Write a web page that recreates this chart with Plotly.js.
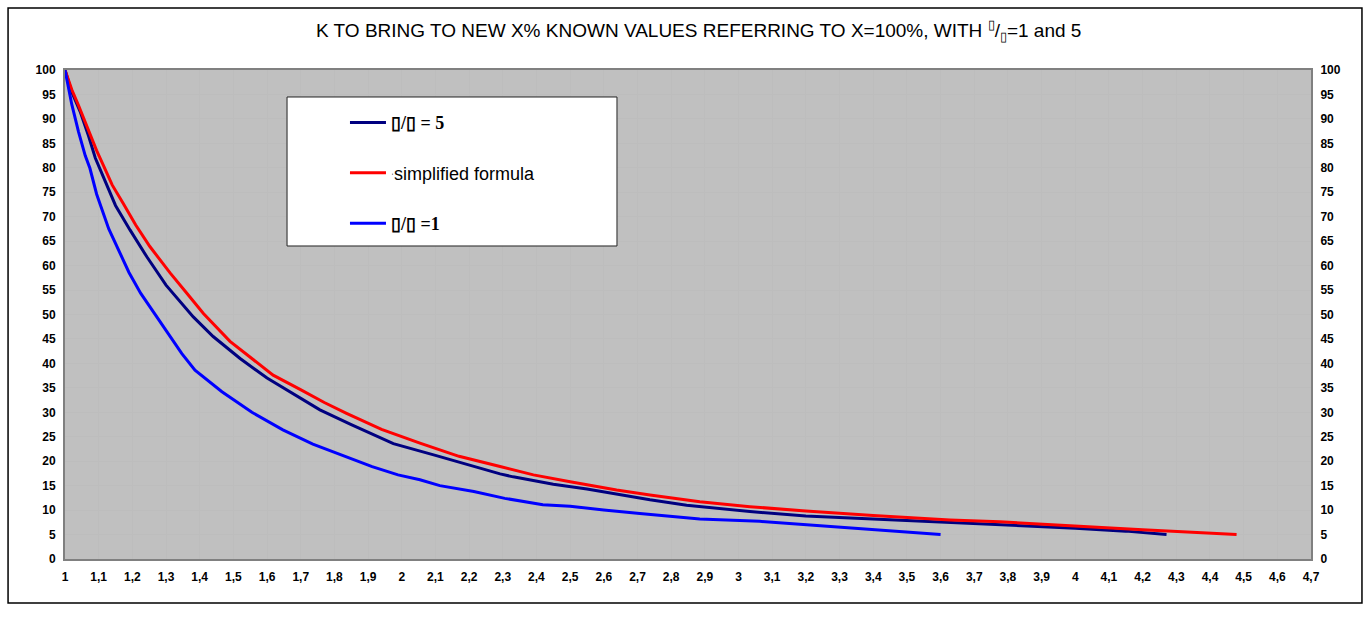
<!DOCTYPE html>
<html>
<head>
<meta charset="utf-8">
<script src="https://cdn.plot.ly/plotly-3.0.1.min.js"></script>
<style>html,body{margin:0;padding:0;background:#fff;}#chart{width:1370px;height:625px;}</style>
</head>
<body>
<div id="chart"></div>
<script>
// Series: phi/phi = 5 (navy)
const ratio5X = [1, 1.02, 1.045, 1.07, 1.09, 1.12, 1.15, 1.193, 1.243, 1.30, 1.381, 1.44, 1.52, 1.6, 1.698, 1.757, 1.85, 1.975, 2.1, 2.2, 2.292, 2.331, 2.45, 2.55, 2.638, 2.737, 2.846, 3.034, 3.2, 3.4, 3.628, 3.776, 4.0, 4.15, 4.271];
const ratio5Y = [100, 95.5, 91.5, 86.5, 82, 77, 72.3, 67.3, 61.8, 56, 49.5, 45.5, 41, 37, 32.9, 30.5, 27.5, 23.6, 21.2, 19.2, 17.4, 16.8, 15.3, 14.3, 13.2, 12.1, 11.0, 9.7, 8.8, 8.2, 7.4, 7.0, 6.3, 5.7, 5];
// Series: simplified formula (red)
const simpleX = [1, 1.02, 1.04, 1.07, 1.094, 1.114, 1.14, 1.173, 1.21, 1.252, 1.312, 1.36, 1.411, 1.49, 1.559, 1.618, 1.698, 1.77, 1.836, 1.94, 2.054, 2.17, 2.292, 2.391, 2.5, 2.638, 2.737, 2.885, 3.034, 3.2, 3.4, 3.628, 3.776, 4.0, 4.2, 4.479];
const simpleY = [100, 96, 92.8, 87.5, 83.5, 80.5, 76.5, 72.7, 68.3, 63.9, 58.5, 54.5, 50.2, 44.5, 40.8, 37.6, 34.7, 32, 29.8, 26.5, 23.7, 21, 18.9, 17.2, 15.8, 14.1, 13.1, 11.7, 10.7, 9.8, 8.9, 8.0, 7.6, 6.7, 6.0, 5];
// Series: phi/phi = 1 (blue)
const ratio1X = [1, 1.02, 1.04, 1.06, 1.074, 1.094, 1.13, 1.16, 1.19, 1.225, 1.267, 1.30, 1.347, 1.386, 1.466, 1.555, 1.647, 1.736, 1.831, 1.912, 1.989, 2.054, 2.113, 2.214, 2.306, 2.419, 2.5, 2.6, 2.707, 2.885, 3.063, 3.18, 3.42, 3.6];
const ratio1Y = [100, 93, 87.4, 82.5, 79.9, 74.6, 67.5, 63, 58.6, 54.3, 50.1, 46.8, 42, 38.6, 34.2, 30, 26.4, 23.5, 21, 18.9, 17.2, 16.2, 15, 13.8, 12.4, 11.1, 10.8, 10, 9.3, 8.2, 7.7, 7.1, 5.9, 5];

const seriesNames = [
  '<span style="font-family:\'Liberation Serif\'"><b>▯/▯ = 5</b></span>',
  '<span style="font-size:9px">ˈ</span>simplified formula',
  '<span style="font-family:\'Liberation Serif\'"><b>▯/▯ =1</b></span>'
];

const xTickVals = [1,1.1,1.2,1.3,1.4,1.5,1.6,1.7,1.8,1.9,2,2.1,2.2,2.3,2.4,2.5,2.6,2.7,2.8,2.9,3,3.1,3.2,3.3,3.4,3.5,3.6,3.7,3.8,3.9,4,4.1,4.2,4.3,4.4,4.5,4.6,4.7];
const xTickText = ['1','1,1','1,2','1,3','1,4','1,5','1,6','1,7','1,8','1,9','2','2,1','2,2','2,3','2,4','2,5','2,6','2,7','2,8','2,9','3','3,1','3,2','3,3','3,4','3,5','3,6','3,7','3,8','3,9','4','4,1','4,2','4,3','4,4','4,5','4,6','4,7'];

const titleText = 'K TO BRING TO NEW X% KNOWN VALUES REFERRING TO X=100%, WITH <sup>▯</sup>/<sub>▯</sub>=1 and 5';

const traces = [
  {x: ratio5X, y: ratio5Y, name: seriesNames[0], type: 'scatter', mode: 'lines', line: {color: '#000080', width: 3}, legendgroup: 'a'},
  {x: simpleX, y: simpleY, name: seriesNames[1], type: 'scatter', mode: 'lines', line: {color: '#ff0000', width: 3}, legendgroup: 'b'},
  {x: ratio1X, y: ratio1Y, name: seriesNames[2], type: 'scatter', mode: 'lines', line: {color: '#0000ff', width: 3}, legendgroup: 'c', yaxis: 'y2'}
];

const tickFont = {family: 'Liberation Sans, Arial, sans-serif', size: 12, color: '#000', weight: 'bold'};

const layout = {
  width: 1370, height: 625,
  margin: {l: 65, r: 59, t: 70, b: 66},
  paper_bgcolor: '#ffffff',
  plot_bgcolor: '#c0c0c0',
  font: {family: 'Liberation Sans, Arial, sans-serif', color: '#000'},
  title: {text: titleText, font: {size: 19, family: 'Liberation Sans, Arial, sans-serif', color: '#000'}, x: 0.51, xanchor: 'center', y: 0.952, yanchor: 'middle'},
  showlegend: true,
  legend: {x: 0.2247, xanchor: 'left', y: 0.93, yanchor: 'top', bgcolor: 'rgba(0,0,0,0)', borderwidth: 0, font: {size: 18, family: 'Liberation Sans, Arial, sans-serif', color: '#000'}, tracegroupgap: 24, itemwidth: 36},
  xaxis: {
    range: [1, 4.7], tickmode: 'array', tickvals: xTickVals, ticktext: xTickText,
    tickfont: tickFont, showgrid: true, gridcolor: '#bdbdbd', gridwidth: 1,
    showline: true, linecolor: '#808080', linewidth: 2, mirror: true, zeroline: false,
    ticks: 'outside', ticklen: 6, tickcolor: 'rgba(0,0,0,0)'
  },
  yaxis: {
    range: [0, 100], dtick: 5, tick0: 0, tickfont: tickFont,
    showgrid: true, gridcolor: '#bdbdbd', gridwidth: 1,
    showline: true, linecolor: '#808080', linewidth: 2, mirror: true, zeroline: false,
    ticks: 'outside', ticklen: 5, tickcolor: 'rgba(0,0,0,0)'
  },
  yaxis2: {
    range: [0, 100], dtick: 5, tick0: 0, tickfont: tickFont, overlaying: 'y', side: 'right',
    showgrid: false, showline: false, zeroline: false,
    ticks: 'outside', ticklen: 6, tickcolor: 'rgba(0,0,0,0)'
  },
  shapes: [
    {type: 'rect', xref: 'paper', yref: 'paper', x0: 0.1782, x1: 0.4430, y0: 0.6401, y1: 0.9448, fillcolor: '#ffffff', line: {color: '#222', width: 1}, layer: 'above'},
    {type: 'rect', xref: 'paper', yref: 'paper', x0: -0.0457, x1: 1.0409, y0: -0.0900, y1: 1.1268, fillcolor: 'rgba(0,0,0,0)', line: {color: '#000', width: 1.5}, layer: 'below'}
  ]
};

Plotly.newPlot('chart', traces, layout, {displayModeBar: false, staticPlot: true});
</script>
</body>
</html>
